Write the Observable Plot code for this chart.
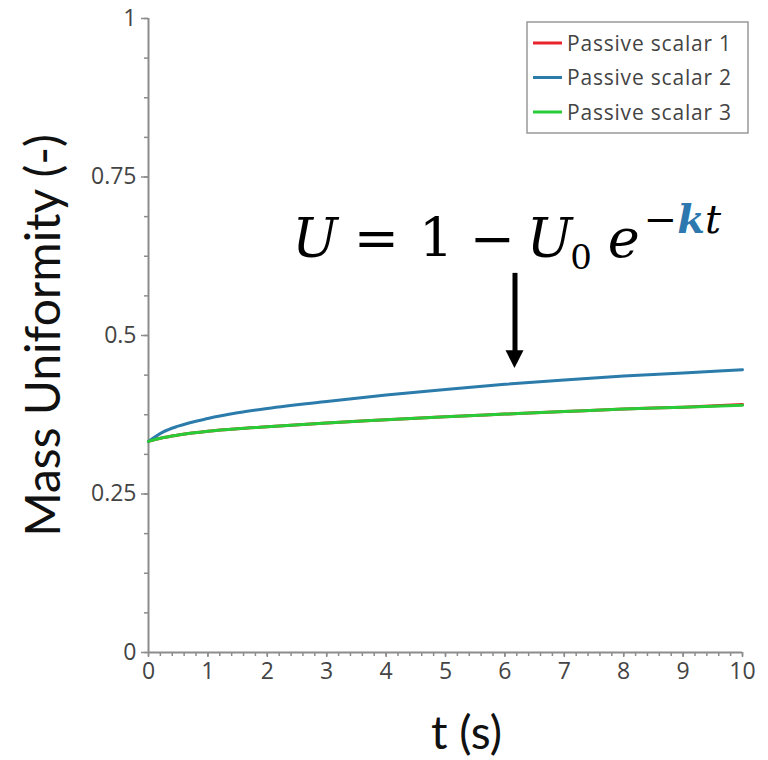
<!DOCTYPE html>
<html>
<head>
<meta charset="utf-8">
<script src="https://cdn.jsdelivr.net/npm/d3@7"></script>
<script src="https://cdn.jsdelivr.net/npm/@observablehq/plot@0.6"></script>
<style>
  html, body { margin: 0; padding: 0; background: #fff; }
  #chart { width: 768px; height: 760px; }
</style>
</head>
<body>
<div id="chart"></div>
<script>
// ---- data ----
const time = [0, 0.25, 0.5, 1, 1.5, 2, 3, 4, 5, 6, 7, 8, 9, 10];
const scalar1 = [0.333, 0.339, 0.343, 0.349, 0.353, 0.356, 0.362, 0.367, 0.372, 0.376, 0.380, 0.384, 0.387, 0.391];
const scalar2 = [0.333, 0.348, 0.357, 0.369, 0.378, 0.385, 0.396, 0.406, 0.415, 0.423, 0.430, 0.436, 0.441, 0.446];
const scalar3 = [0.333, 0.339, 0.343, 0.349, 0.353, 0.356, 0.362, 0.367, 0.372, 0.376, 0.380, 0.384, 0.387, 0.390];
const seriesNames = ["Passive scalar 1", "Passive scalar 2", "Passive scalar 3"];
const seriesColors = ["#e8232b", "#2b7bab", "#27cc37"];
const yMajor = [0, 0.25, 0.5, 0.75, 1];
const yMinor = d3.range(0, 1.0001, 0.0625);
const xMajor = [0, 1, 2, 3, 4, 5, 6, 7, 8, 9, 10];
const xMinor = d3.range(0, 10.0001, 0.2);
// annotation (data coordinates)
const arrowShaft = [{t: 6.17, y1: 0.598, y2: 0.47}];
const arrowTip = {t: 6.17, y: 0.448, headTop: 0.476};
const formulaAnchor = {t: 2.43, y: 0.623};

const seriesData = [scalar1, scalar2, scalar3];
const rows = seriesData.flatMap((vals, i) =>
  vals.map((v, j) => ({t: time[j], u: v, s: seriesNames[i]})));

const axisColor = "#8c8c8c";
const tickFont = "'Open Sans', sans-serif";

const plot = Plot.plot({
  width: 768,
  height: 760,
  marginLeft: 148,
  marginRight: 26,
  marginTop: 18,
  marginBottom: 108,
  style: {fontFamily: tickFont, color: "#444", background: "transparent"},
  x: {domain: [0, 10], label: null},
  y: {domain: [0, 1], label: null},
  color: {domain: seriesNames, range: seriesColors},
  marks: [
    Plot.axisY({ticks: yMinor, tickSize: 4, text: null, stroke: axisColor, strokeWidth: 1.5}),
    Plot.axisY({ticks: yMajor, tickSize: 7, tickPadding: 5, tickFormat: d => String(d), stroke: axisColor, strokeWidth: 1.5, fill: "#444", fontSize: 23}),
    Plot.axisX({ticks: xMinor, tickSize: 4, text: null, stroke: axisColor, strokeWidth: 1.5}),
    Plot.axisX({ticks: xMajor, tickSize: 5, tickPadding: 5, tickFormat: d => String(d), stroke: axisColor, strokeWidth: 1.5, fill: "#444", fontSize: 23}),
    Plot.ruleX([0], {y1: 0, y2: 1, stroke: axisColor, strokeWidth: 2}),
    Plot.ruleY([0], {stroke: axisColor, strokeWidth: 2}),
    Plot.line(rows, {x: "t", y: "u", z: "s", stroke: "s", strokeWidth: 3, curve: "monotone-x"}),
    Plot.ruleX(arrowShaft, {x: "t", y1: "y1", y2: "y2", stroke: "#000", strokeWidth: 5}),
    Plot.text(["t (s)"], {frameAnchor: "bottom", dy: 82, dx: 21, fontSize: 46, fontFamily: "Lato, sans-serif", fill: "#111", lineAnchor: "middle", textAnchor: "middle"}),
    Plot.text(["Mass Uniformity (-)"], {frameAnchor: "left", dx: -104, dy: 0, rotate: -90, fontSize: 48, fontFamily: "Lato, sans-serif", fill: "#111", lineAnchor: "middle", textAnchor: "middle", letterSpacing: "1px"})
  ]
});

document.getElementById("chart").appendChild(plot);

const svg = d3.select(plot);
svg.selectAll('g[aria-label$="tick label"]').attr("font-size", 23);
const xs = plot.scale("x"), ys = plot.scale("y");

// arrow head (filled triangle)
const ax = xs.apply(arrowTip.t), ay = ys.apply(arrowTip.y), ah = ys.apply(arrowTip.headTop);
svg.append("path")
  .attr("d", `M${ax - 9},${ah}L${ax + 9},${ah}L${ax},${ay}Z`)
  .attr("fill", "#000");

// formula
const ft = svg.append("text")
  .attr("x", xs.apply(formulaAnchor.t))
  .attr("y", ys.apply(formulaAnchor.y))
  .attr("text-anchor", "start")
  .attr("font-family", "'DejaVu Serif', serif")
  .attr("font-size", 54)
  .attr("fill", "#000");
ft.append("tspan").attr("font-style", "italic").text("U");
ft.append("tspan").attr("dx", 16).text("=");
ft.append("tspan").attr("dx", 20).text("1");
ft.append("tspan").attr("dx", 16).text("−");
ft.append("tspan").attr("dx", 12).attr("font-style", "italic").text("U");
ft.append("tspan").attr("font-size", 34).attr("dy", 12).attr("dx", -2).text("0");
ft.append("tspan").attr("dx", 16).attr("dy", -12).attr("font-style", "italic").text("e");
ft.append("tspan").attr("font-size", 40).attr("dy", -24).attr("dx", 4).text("−");
ft.append("tspan").attr("font-size", 40).attr("font-style", "italic").attr("font-weight", "bold").attr("fill", "#2e78b0").text("k");
ft.append("tspan").attr("font-size", 40).attr("font-style", "italic").text("t");

// legend
const lx = 527, ly = 22, lw = 221, lh = 111;
const lg = svg.append("g").attr("text-anchor", "start");
lg.append("rect").attr("x", lx).attr("y", ly).attr("width", lw).attr("height", lh)
  .attr("fill", "#fff").attr("stroke", "#999").attr("stroke-width", 1.5);
seriesNames.forEach((name, i) => {
  const cy = ly + 21 + i * 34.5;
  lg.append("line").attr("x1", lx + 6).attr("x2", lx + 35).attr("y1", cy).attr("y2", cy)
    .attr("stroke", seriesColors[i]).attr("stroke-width", 3);
  lg.append("text").attr("x", lx + 40).attr("y", cy).attr("dy", "0.36em")
    .attr("font-family", tickFont).attr("font-size", 21).attr("letter-spacing", "0.8px")
    .attr("fill", "#444").text(name);
});
</script>
</body>
</html>
